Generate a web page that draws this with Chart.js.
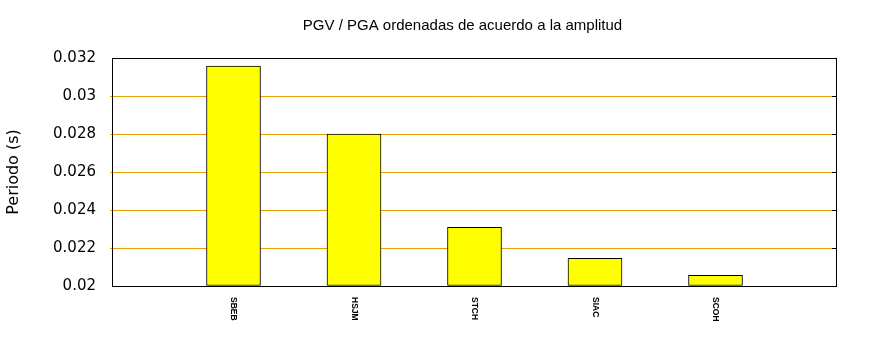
<!DOCTYPE html>
<html>
<head>
<meta charset="utf-8">
<script src="https://cdn.jsdelivr.net/npm/chart.js@4"></script>
<style>
    html, body { margin: 0; padding: 0; background: #fff; }
    #wrap { width: 870px; height: 350px; }
</style>
</head>
<body>
<div id="wrap"><canvas id="chart-pgv"></canvas></div>
<script>
// stations sorted by amplitude
const stations = ['SBEB', 'HSJM', 'STCH', 'SIAC', 'SCOH'];
// period values in seconds
const periods = [0.03158, 0.0280, 0.02309, 0.02146, 0.02056];
const yTicks = [0.02, 0.022, 0.024, 0.026, 0.028, 0.03, 0.032];

const TITLE = 'PGV / PGA ordenadas de acuerdo a la amplitud';
const Y_TITLE = 'Periodo (s)';

// empty slot at each end, like the gnuplot x range
const labels = [''].concat(stations, ['']);
const values = [null].concat(periods, [null]);

Chart.defaults.color = '#000';

/**
 * draws the frame, the inner right ticks, the title and the rotated station names
 */
const framePlugin = {
    id: 'frame',
    afterDatasetsDraw(chart) {
        const ctx = chart.ctx;
        const a = chart.chartArea;
        const y = chart.scales.y;
        const x = chart.scales.x;
        ctx.save();
        ctx.strokeStyle = '#000';
        ctx.lineWidth = 1;
        ctx.strokeRect(Math.round(a.left) - 0.5, Math.round(a.top) + 0.5,
            Math.round(a.right - a.left) + 1, Math.round(a.bottom - a.top));
        ctx.beginPath();
        for (const t of y.ticks) {
            const py = Math.round(y.getPixelForValue(t.value)) + 0.5;
            ctx.moveTo(a.right - 4, py);
            ctx.lineTo(a.right, py);
        }
        ctx.stroke();

        ctx.fillStyle = '#000';
        ctx.font = '15px "Liberation Sans", Arial, sans-serif';
        ctx.textAlign = 'center';
        ctx.textBaseline = 'middle';
        ctx.fillText(TITLE, (a.left + a.right) / 2 - 12, 26);

        ctx.font = 'bold 8.5px "Liberation Sans", Arial, sans-serif';
        ctx.textAlign = 'left';
        stations.forEach(function (name, i) {
            ctx.save();
            ctx.translate(x.getPixelForValue(i + 1), a.bottom + 11);
            ctx.rotate(Math.PI / 2);
            ctx.fillText(name, 0, 0);
            ctx.restore();
        });
        ctx.restore();
    }
};

new Chart(document.getElementById('chart-pgv'), {
    type: 'bar',
    data: {
        labels: labels,
        datasets: [{
            label: Y_TITLE,
            data: values,
            base: 0.02,
            backgroundColor: '#ffff00',
            borderColor: '#000',
            borderWidth: 1,
            borderSkipped: false,
            barThickness: 54
        }]
    },
    options: {
        responsive: true,
        maintainAspectRatio: false,
        animation: false,
        layout: {
            padding: { top: 58, right: 34, left: 0, bottom: 0 }
        },
        plugins: {
            legend: { display: false },
            title: { display: false },
            tooltip: { enabled: false }
        },
        scales: {
            x: {
                offset: false,
                grid: { display: false },
                border: { display: false },
                ticks: { display: false },
                afterFit(scale) { scale.height = 64; }
            },
            y: {
                min: 0.02,
                max: 0.032,
                afterBuildTicks(scale) {
                    scale.ticks = yTicks.map(v => ({ value: v }));
                },
                grid: {
                    color(ctx) {
                        if (ctx.index === 0 || ctx.index === yTicks.length - 1) {
                            return 'rgba(0,0,0,0)';
                        }
                        return '#e69f00';
                    },
                    lineWidth: 1,
                    tickLength: 3
                },
                border: { display: false },
                ticks: {
                    padding: 14,
                    font: { family: '"DejaVu Sans", sans-serif', size: 15 },
                    callback: v => String(Number(v.toFixed(3)))
                },
                title: {
                    display: true,
                    text: Y_TITLE,
                    padding: { top: 4, bottom: 0 },
                    font: { family: '"DejaVu Sans", sans-serif', size: 16 }
                },
                afterFit(scale) { scale.width = 113; }
            }
        }
    },
    plugins: [framePlugin]
});
</script>
</body>
</html>
